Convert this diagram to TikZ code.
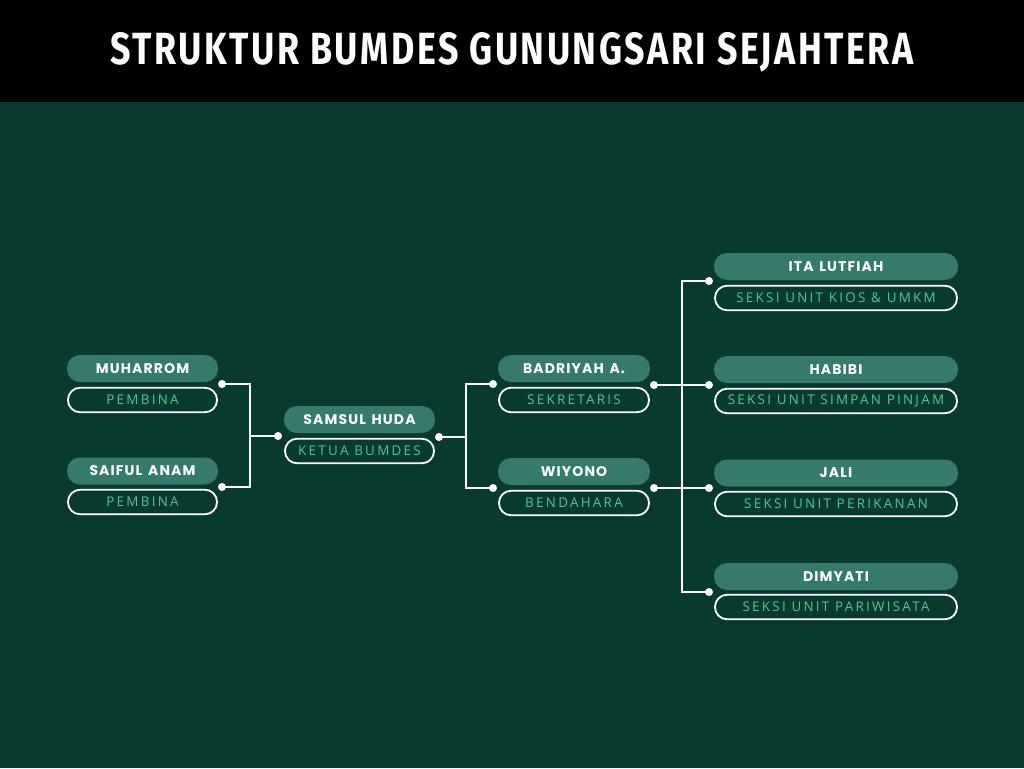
\documentclass[tikz,border=0pt]{standalone}
\usepackage{fontspec}
\setmainfont{Open Sans}
\newfontfamily\titlefont{Fira Sans}[LetterSpace=7]
\newfontfamily\namefont{Poppins}[LetterSpace=8, WordSpace=1.4]
\newfontfamily\rolefont{Open Sans}[LetterSpace=17]
\definecolor{bg}{HTML}{093A30}
\definecolor{pill}{HTML}{367A6D}
\definecolor{roletext}{HTML}{55C4A0}
\tikzset{
  namepill/.style={rectangle, rounded corners=13pt, fill=pill, minimum height=27pt, inner sep=0pt, font=\namefont\bfseries\fontsize{14pt}{14pt}\selectfont, text=white},
  rolepill/.style={rectangle, rounded corners=12pt, draw=white, line width=1.8pt, minimum height=24.5pt, inner sep=0pt, font=\rolefont\fontsize{13.4pt}{13.4pt}\selectfont, text=roletext},
  dot/.style={circle, fill=white, minimum size=8pt, inner sep=0pt},
  link/.style={draw=white, line width=1.8pt}
}
\begin{document}
\begin{tikzpicture}[x=1pt,y=-1pt]
\useasboundingbox (0,0) rectangle (1024,768);
\fill[bg] (0,0) rectangle (1024,768);
\fill[black] (0,0) rectangle (1024,102);
\node[text=white, inner sep=0pt] (title) at (512,52) {\resizebox{803pt}{32pt}{\titlefont\bfseries STRUKTUR BUMDES GUNUNGSARI SEJAHTERA}};
% left column
\node[namepill, minimum width=151pt] (n1) at (142.5,368.5) {MUHARROM};
\node[rolepill, minimum width=149pt] (r1) at (142.5,400) {PEMBINA};
\node[namepill, minimum width=151pt] (n2) at (142.5,471) {SAIFUL ANAM};
\node[rolepill, minimum width=149pt] (r2) at (142.5,502) {PEMBINA};
% center
\node[namepill, minimum width=151pt] (n3) at (359.5,419.5) {SAMSUL HUDA};
\node[rolepill, minimum width=149pt] (r3) at (359.5,451) {KETUA BUMDES};
% middle column
\node[namepill, minimum width=152pt] (n4) at (574,368.5) {BADRIYAH A.};
\node[rolepill, minimum width=150pt] (r4) at (574,400) {SEKRETARIS};
\node[namepill, minimum width=152pt] (n5) at (574,471.5) {WIYONO};
\node[rolepill, minimum width=150pt] (r5) at (574,503) {BENDAHARA};
% right column
\node[namepill, minimum width=244pt] (n6) at (836,266.5) {ITA LUTFIAH};
\node[rolepill, minimum width=242pt] (r6) at (836,298) {SEKSI UNIT KIOS \& UMKM};
\node[namepill, minimum width=244pt] (n7) at (836,369.5) {HABIBI};
\node[rolepill, minimum width=242pt] (r7) at (836,401) {SEKSI UNIT SIMPAN PINJAM};
\node[namepill, minimum width=244pt] (n8) at (836,473) {JALI};
\node[rolepill, minimum width=242pt] (r8) at (836,504) {SEKSI UNIT PERIKANAN};
\node[namepill, minimum width=244pt] (n9) at (836,576.5) {DIMYATI};
\node[rolepill, minimum width=242pt] (r9) at (836,607) {SEKSI UNIT PARIWISATA};
% dots
\node[dot] (d1) at (222,384) {};
\node[dot] (d2) at (222,487) {};
\node[dot] (d3) at (278,436) {};
\node[dot] (d4) at (439,437) {};
\node[dot] (d5) at (493,384) {};
\node[dot] (d6) at (493,488) {};
\node[dot] (d7) at (654,385) {};
\node[dot] (d8) at (654,488) {};
\node[dot] (d9) at (709,281) {};
\node[dot] (d10) at (709,385) {};
\node[dot] (d11) at (709,488) {};
\node[dot] (d12) at (709,592) {};
% connectors
\coordinate (jl) at (250,436);
\coordinate (jc) at (466,437);
\coordinate (jr) at (682,385);
\path[link] (d1.center) -| (jl) |- (d2.center);
\path[link] (jl) -- (d3.center);
\path[link] (d4.center) -- (jc);
\path[link] (d5.center) -| (jc) |- (d6.center);
\path[link] (d7.center) -- (d10.center);
\path[link] (d8.center) -- (d11.center);
\path[link] (d9.center) -| (jr) |- (d12.center);
\end{tikzpicture}
\end{document}
